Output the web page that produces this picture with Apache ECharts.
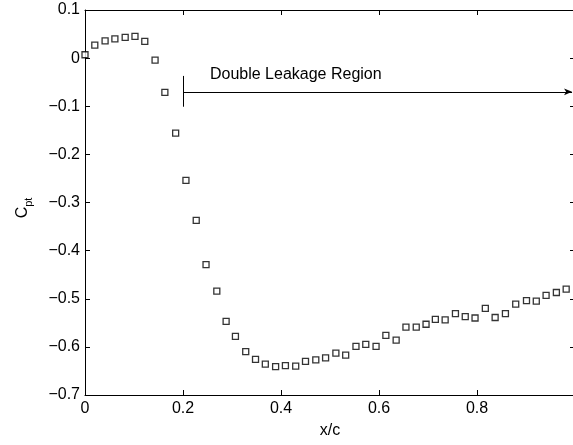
<!DOCTYPE html>
<html>
<head>
<meta charset="utf-8">
<script src="https://cdn.jsdelivr.net/npm/echarts@6/dist/echarts.min.js"></script>
<style>
  html, body { margin: 0; padding: 0; background: #fff; }
  #chart { width: 573px; height: 445px; }
</style>
</head>
<body>
<div id="chart"></div>
<script>
// Total-pressure coefficient along the chord
const xOverC = [0, 0.020, 0.041, 0.061, 0.082, 0.102, 0.122, 0.143, 0.163, 0.185,
  0.206, 0.227, 0.247, 0.269, 0.288, 0.307, 0.328, 0.348, 0.368, 0.389,
  0.409, 0.430, 0.450, 0.471, 0.491, 0.512, 0.532, 0.553, 0.573, 0.594,
  0.614, 0.635, 0.655, 0.676, 0.696, 0.715, 0.735, 0.756, 0.776, 0.796,
  0.817, 0.837, 0.858, 0.879, 0.901, 0.921, 0.941, 0.962, 0.982];
const cpt = [0.007, 0.027, 0.036, 0.040, 0.043, 0.045, 0.035, -0.004, -0.071, -0.156,
  -0.254, -0.337, -0.429, -0.484, -0.547, -0.578, -0.610, -0.626, -0.636, -0.641,
  -0.639, -0.640, -0.630, -0.627, -0.623, -0.613, -0.617, -0.599, -0.595, -0.599,
  -0.576, -0.586, -0.559, -0.559, -0.553, -0.543, -0.544, -0.531, -0.537, -0.540,
  -0.520, -0.539, -0.531, -0.511, -0.504, -0.505, -0.493, -0.487, -0.480];

const xTicks = [0, 0.2, 0.4, 0.6, 0.8, 1];
const yTicks = [-0.7, -0.6, -0.5, -0.4, -0.3, -0.2, -0.1, 0, 0.1];

// Double leakage region marker
const regionStart = 0.2;
const regionEnd = 0.994;
const regionLevel = -0.07;
const regionBarTop = -0.037;
const regionBarBottom = -0.101;
const regionLabel = 'Double Leakage Region';

const FONT = '"Liberation Sans", Arial, Helvetica, sans-serif';
const fmt = v => {
  const r = Math.round(v * 10) / 10;
  if (r === 0) return '0';
  return String(r).replace('-', '\u2212');
};

const chart = echarts.init(document.getElementById('chart'), null, { renderer: 'canvas' });

const axisLine = { show: true, onZero: false, lineStyle: { color: '#000', width: 1 } };
const tick = { show: true, inside: true, length: 5, lineStyle: { color: '#000', width: 1 } };

chart.setOption({
  animation: false,
  backgroundColor: '#fff',
  grid: { left: 85, right: -2, top: 10, bottom: 50, outerBoundsMode: 'none', containLabel: false },
  xAxis: [{
    type: 'value', min: xTicks[0], max: xTicks[xTicks.length - 1], interval: 0.2,
    position: 'bottom',
    axisLine, axisTick: tick, splitLine: { show: false },
    axisLabel: {
      color: '#000', fontFamily: FONT, fontSize: 16, margin: 6,
      showMaxLabel: false,
      formatter: v => (Math.abs(v - 1) < 1e-9 ? '' : String(Math.round(v * 10) / 10))
    },
    name: 'x/c', nameLocation: 'middle', nameGap: 28,
    nameTextStyle: { color: '#000', fontFamily: FONT, fontSize: 16 }
  }, {
    type: 'value', min: xTicks[0], max: xTicks[xTicks.length - 1], interval: 0.2,
    position: 'top',
    axisLine, axisTick: tick, axisLabel: { show: false }, splitLine: { show: false }
  }],
  yAxis: [{
    type: 'value', min: yTicks[0], max: yTicks[yTicks.length - 1], interval: 0.1,
    position: 'left',
    axisLine, axisTick: tick, splitLine: { show: false },
    axisLabel: { color: '#000', fontFamily: FONT, fontSize: 16, margin: 5, formatter: fmt }
  }, {
    type: 'value', min: yTicks[0], max: yTicks[yTicks.length - 1], interval: 0.1,
    position: 'right',
    axisLine, axisTick: tick, axisLabel: { show: false }, splitLine: { show: false }
  }],
  series: [{
    type: 'scatter',
    data: xOverC.map((x, i) => [x, cpt[i]]),
    symbol: 'rect',
    symbolSize: 6,
    itemStyle: { color: '#fff', borderColor: '#000', borderWidth: 1.3 },
    silent: true,
    markLine: {
      silent: true,
      animation: false,
      label: { show: false },
      lineStyle: { color: '#000', width: 1, type: 'solid' },
      symbol: ['none', 'none'],
      data: [
        [{ coord: [regionStart, regionLevel], symbol: 'none' },
         { coord: [regionEnd, regionLevel], symbol: 'arrow', symbolSize: [5, 8] }],
        [{ coord: [regionStart, regionBarTop], symbol: 'none' },
         { coord: [regionStart, regionBarBottom], symbol: 'none' }]
      ]
    }
  }]
});

// Region label and rotated y-axis title
const labelPos = chart.convertToPixel({ gridIndex: 0 }, [0.255, -0.034]);
chart.setOption({
  graphic: [{
    type: 'text', silent: true,
    x: labelPos[0], y: labelPos[1],
    style: { text: regionLabel, fill: '#000', font: '16px ' + FONT, textVerticalAlign: 'middle' }
  }, {
    type: 'text', silent: true,
    x: 23, y: 208, rotation: Math.PI / 2,
    style: {
      text: '{c|C}{s|pt}',
      align: 'center', verticalAlign: 'middle',
      rich: {
        c: { fontFamily: FONT, fontSize: 16, fill: '#000', lineHeight: 18 },
        s: { fontFamily: FONT, fontSize: 11, fill: '#000', padding: [11, 0, 0, 0], verticalAlign: 'bottom' }
      }
    }
  }]
});
</script>
</body>
</html>
